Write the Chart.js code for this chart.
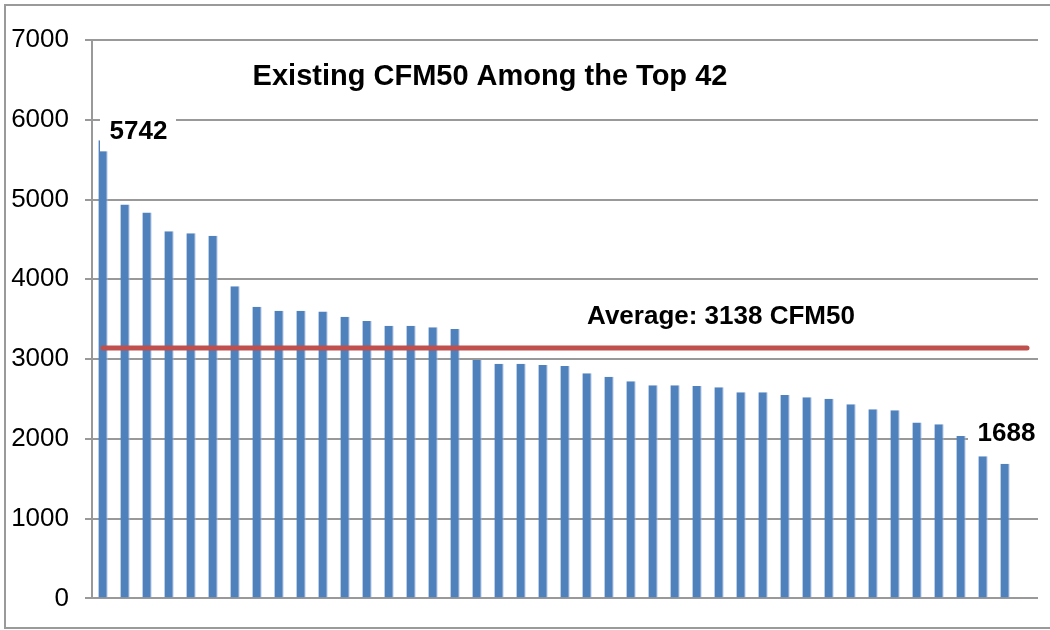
<!DOCTYPE html>
<html>
<head>
<meta charset="utf-8">
<script src="https://cdn.jsdelivr.net/npm/chart.js@4"></script>
<style>
  html, body { margin: 0; padding: 0; background: #fff; }
  canvas { display: block; }
</style>
</head>
<body>
<canvas id="chart" width="1050" height="630"></canvas>
<script>
// houses ranked 1..42 by existing CFM50 (x labels are not shown)
const ranks = ['1','2','3','4','5','6','7','8','9','10','11','12','13','14','15','16','17','18','19','20','21',
  '22','23','24','25','26','27','28','29','30','31','32','33','34','35','36','37','38','39','40','41','42'];
// the Excel chart leaves one empty slot after the last house
const slots = ranks.concat(['']);

const cfm50 = [5742, 4938, 4838, 4604, 4579, 4546, 3914, 3656, 3606, 3606, 3598, 3531, 3477, 3419, 3419,
  3398, 3378, 2988, 2942, 2942, 2925, 2912, 2821, 2779, 2721, 2671, 2671, 2662, 2646, 2583, 2583, 2550,
  2521, 2504, 2433, 2371, 2358, 2204, 2183, 2037, 1783, 1688];

const average = 3138;
const yTicks = [0, 1000, 2000, 3000, 4000, 5000, 6000, 7000];

const chartTitle = 'Existing CFM50 Among the Top 42';

const FONT = "'Liberation Sans', Arial, sans-serif";

// title, value callouts, average label and the outer frame
const annotations = {
  id: 'annotations',
  afterDatasetsDraw(chart) {
    const { ctx } = chart;
    const x = chart.scales.x;
    const y = chart.scales.y;
    ctx.save();
    ctx.textBaseline = 'middle';
    ctx.textAlign = 'center';
    ctx.fillStyle = '#000';

    ctx.font = 'bold 29px ' + FONT;
    ctx.fillText(chartTitle, 490, 77);

    ctx.font = 'bold 26px ' + FONT;
    ctx.fillText('Average: ' + average + ' CFM50', 721, y.getPixelForValue(average) - 31);

    // callouts with white boxes, like the Excel data labels
    const callout = (idx, dx, dy, w) => {
      const left = x.getPixelForValue(idx) + dx;
      const yc = y.getPixelForValue(cfm50[idx]) + dy;
      ctx.fillStyle = '#fff';
      ctx.fillRect(left, yc - 20, w, 40);
      ctx.fillStyle = '#000';
      ctx.fillText(String(cfm50[idx]), left + 38.5, yc);
    };
    callout(0, -3, -9, 76);
    callout(cfm50.length - 1, -37, -30, 82);
    ctx.restore();
  },
  afterDraw(chart) {
    const { ctx } = chart;
    ctx.save();
    ctx.strokeStyle = '#9a9a9a';
    ctx.lineWidth = 2;
    ctx.beginPath();
    ctx.moveTo(1050, 5);
    ctx.lineTo(5, 5);
    ctx.lineTo(5, 628);
    ctx.lineTo(1050, 628);
    ctx.stroke();
    ctx.restore();
  }
};

new Chart(document.getElementById('chart'), {
  type: 'bar',
  data: {
    labels: slots,
    datasets: [
      {
        type: 'line',
        label: 'Average',
        data: slots.map(() => average),
        borderColor: '#C0504D',
        borderWidth: 5,
        borderCapStyle: 'round',
        pointRadius: 0,
        order: 0
      },
      {
        label: 'CFM50',
        data: cfm50,
        backgroundColor: '#4F81BD',
        borderColor: '#9DB6D9',
        borderWidth: { right: 1 },
        borderSkipped: 'bottom',
        barPercentage: 0.42,
        categoryPercentage: 1,
        order: 1
      }
    ]
  },
  options: {
    responsive: false,
    animation: false,
    devicePixelRatio: 1,
    layout: { padding: { left: 0, top: 40, right: 12, bottom: 29 } },
    plugins: {
      legend: { display: false },
      title: { display: false },
      tooltip: { enabled: false }
    },
    scales: {
      x: {
        display: false
      },
      y: {
        min: 0,
        max: 7000,
        afterBuildTicks: (scale) => { scale.ticks = yTicks.map(v => ({ value: v })); },
        afterFit: (scale) => { scale.width = 92; },
        ticks: {
          color: '#000',
          padding: 16,
          font: { family: FONT, size: 26 },
          callback: (v) => String(v)
        },
        grid: {
          color: '#999',
          lineWidth: 2,
          tickLength: 7
        },
        border: { color: '#999', width: 2 }
      }
    }
  },
  plugins: [annotations]
});
</script>
</body>
</html>
